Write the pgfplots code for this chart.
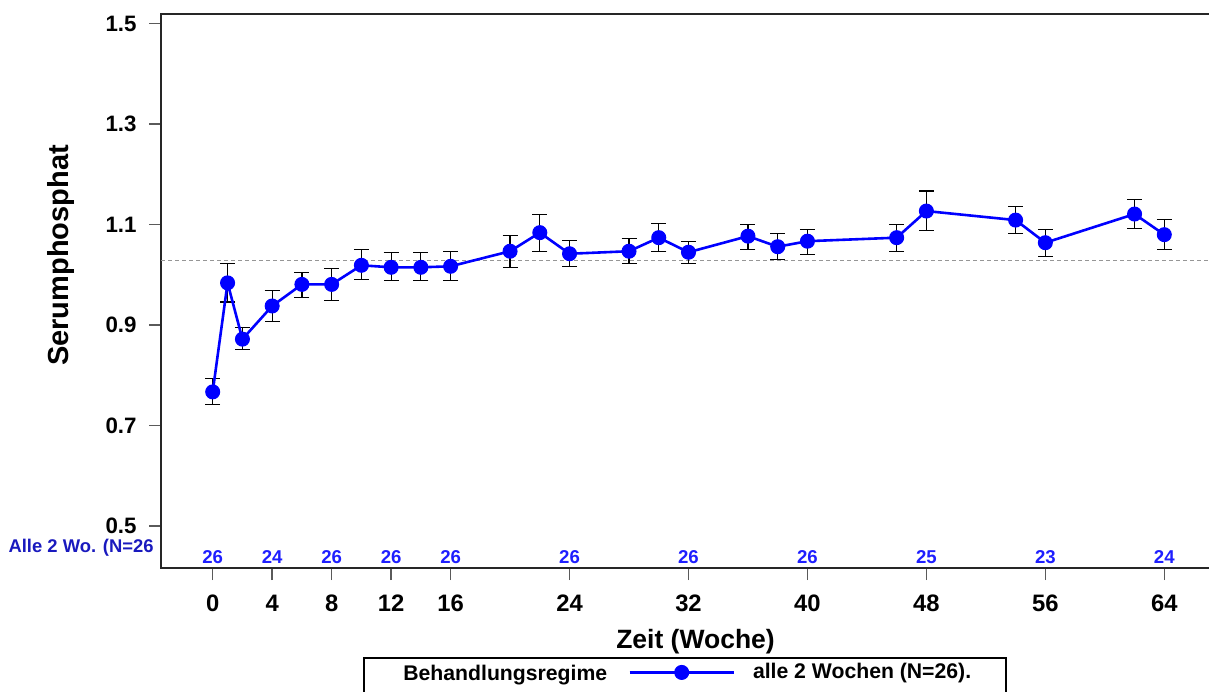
\documentclass[border=0pt]{standalone}
\usepackage{fontspec}
\setmainfont{Liberation Sans}
\usepackage{pgfplots}
\pgfplotsset{compat=1.18}
\usepackage{pgfplotstable}
\definecolor{ptblue}{RGB}{0,0,255}
\definecolor{nblue}{RGB}{30,30,255}
\definecolor{darkblue}{RGB}{25,25,190}
\definecolor{tickgray}{RGB}{90,90,90}
\definecolor{dashgray}{RGB}{150,150,150}

\pgfplotstableread{
x y ep em
0 0.767 0.027 0.025
1 0.984 0.038 0.038
2 0.872 0.023 0.021
4 0.938 0.031 0.031
6 0.981 0.024 0.026
8 0.981 0.032 0.032
10 1.019 0.031 0.029
12 1.015 0.029 0.026
14 1.015 0.030 0.026
16 1.017 0.030 0.028
20 1.047 0.031 0.032
22 1.084 0.036 0.037
24 1.042 0.026 0.025
28 1.047 0.026 0.024
30 1.074 0.029 0.027
32 1.045 0.021 0.022
36 1.077 0.024 0.026
38 1.056 0.026 0.025
40 1.067 0.023 0.026
46 1.074 0.027 0.027
48 1.127 0.040 0.038
54 1.109 0.027 0.027
56 1.064 0.027 0.027
62 1.121 0.029 0.029
64 1.080 0.030 0.029
}\datatable

\pgfplotstableread{
x y n
0 0.4383 26
4 0.4383 24
8 0.4383 26
12 0.4383 26
16 0.4383 26
24 0.4383 26
32 0.4383 26
40 0.4383 26
48 0.4383 25
56 0.4383 23
64 0.4383 24
}\ntable

\begin{document}
\begin{tikzpicture}
\useasboundingbox (0,0) rectangle (604.5pt,345.5pt);
\begin{axis}[
  at={(80.5pt,61.5pt)}, anchor=south west,
  scale only axis, width=525.5pt, height=277pt,
  xmin=-3.477, xmax=67.21, ymin=0.4164, ymax=1.5193,
  xtick={0,4,8,12,16,24,32,40,48,56,64},
  ytick={0.5,0.7,0.9,1.1,1.3,1.5},
  tick pos=left, tick align=outside, major tick length=6pt,
  tick style={tickgray, line width=0.7pt},
  axis line style={black!85, line width=0.8pt},
  /pgf/number format/assume math mode=true,
  yticklabel style={font=\bfseries\fontsize{11.15}{13}\selectfont, anchor=east, inner sep=0pt, xshift=-6pt,
    /pgf/number format/.cd, fixed, fixed zerofill, precision=1},
  xticklabel style={font=\bfseries\fontsize{11.9}{14}\selectfont, anchor=north, inner sep=0pt, yshift=-7.25pt},
  legend style={draw=none, fill=none, at={(0.44434,-0.1885)}, anchor=west, inner sep=0pt,
    font=\bfseries\fontsize{10.6}{13}\selectfont, nodes={inner sep=0pt},
    /tikz/every odd column/.append style={column sep=9pt}},
]
\addplot[forget plot, draw=dashgray, dash pattern=on 2pt off 1.5pt, line width=0.5pt]
  coordinates {(-3.477,1.029) (67.21,1.029)};
\addplot[forget plot, draw=none, mark=none,
  error bars/.cd, y dir=both, y explicit,
  error bar style={draw=black, line width=0.6pt, solid},
  error mark options={rotate=90, mark size=3.75pt, draw=black, line width=0.6pt}]
  table[x=x, y=y, y error plus=ep, y error minus=em] {\datatable};
\addplot[ptblue, line width=1.3pt, mark=*, mark size=3.5pt,
  mark options={solid, fill=ptblue, draw=ptblue, line width=0.5pt},
  legend image code/.code={\draw[mark repeat=2,mark phase=2] plot coordinates {(0pt,0pt) (26pt,0pt) (52pt,0pt)};}]
  table[x=x, y=y] {\datatable};
\addlegendentry{alle 2 Wochen (N=26).}
\addplot[forget plot, only marks, mark=none, nodes near coords, point meta=explicit symbolic,
  nodes near coords style={anchor=center, text=nblue, font=\bfseries\fontsize{9.3}{11}\selectfont, inner sep=0pt}]
  table[x=x, y=y, meta=n] {\ntable};
\end{axis}
\node[rotate=90, font=\bfseries\fontsize{14.5}{17}\selectfont] at (30.5pt,217.75pt) {Serumphosphat};
\node[font=\bfseries\fontsize{13.25}{16}\selectfont, anchor=base] at (347.75pt,21.5pt) {Zeit (Woche)};
\node[font=\bfseries\fontsize{9.2}{11}\selectfont, text=darkblue, anchor=base east, inner sep=0pt] at (77pt,69.15pt) {Alle 2 Wo. (N=26};
\draw[black, line width=0.8pt] (182pt,16.5pt) rectangle (503pt,-10pt);
\node[font=\bfseries\fontsize{10.6}{13}\selectfont, anchor=base west, inner sep=0pt] at (201.5pt,5.15pt) {Behandlungsregime};
\end{tikzpicture}
\end{document}
